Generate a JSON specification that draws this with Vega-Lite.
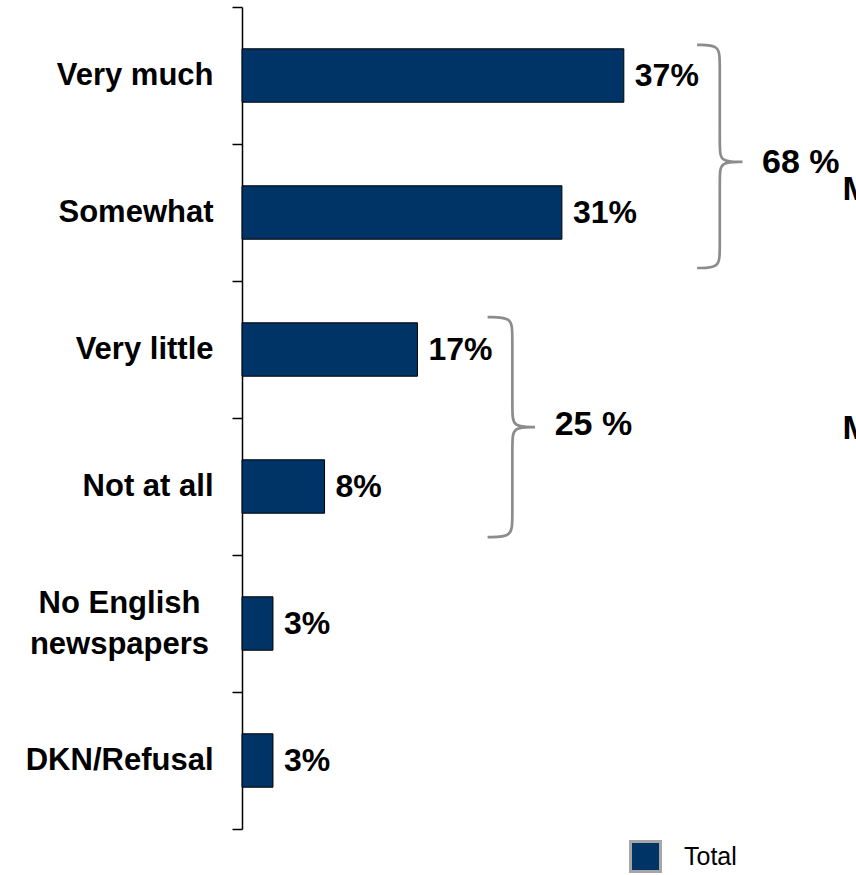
{
  "$schema": "https://vega.github.io/schema/vega-lite/v6.json",
  "autosize": "none",
  "width": 614,
  "height": 822,
  "padding": {"left": 242, "top": 7, "right": 0, "bottom": 46},
  "background": "white",
  "config": {
    "view": {"stroke": null},
    "font": "Liberation Sans",
    "axis": {"grid": false}
  },
  "resolve": {"scale": {"y": "independent"}},
  "layer": [
    {
      "data": {
        "values": [
          {"category": "Very much", "value": 37, "label": "37%", "series": "Total"},
          {"category": "Somewhat", "value": 31, "label": "31%", "series": "Total"},
          {"category": "Very little", "value": 17, "label": "17%", "series": "Total"},
          {"category": "Not at all", "value": 8, "label": "8%", "series": "Total"},
          {"category": "No English newspapers", "value": 3, "label": "3%", "series": "Total"},
          {"category": "DKN/Refusal", "value": 3, "label": "3%", "series": "Total"}
        ]
      },
      "encoding": {
        "y": {
          "field": "category",
          "type": "nominal",
          "sort": null,
          "scale": {"paddingInner": 0, "paddingOuter": 0},
          "axis": {
            "title": null,
            "domainColor": "#000000",
            "domainWidth": 1.5,
            "tickColor": "#000000",
            "tickWidth": 1.5,
            "tickSize": 10,
            "tickBand": "extent",
            "labelFont": "Liberation Sans",
            "labelFontSize": 31,
            "labelFontWeight": "bold",
            "labelColor": "#000000",
            "labelLimit": 400,
            "labelLineHeight": 41,
            "labelExpr": "datum.value == 'No English newspapers' ? ['No English', 'newspapers'] : datum.value",
            "labelAlign": {"condition": {"test": "datum.value == 'No English newspapers'", "value": "center"}, "value": "right"},
            "labelPadding": {"condition": {"test": "datum.value == 'No English newspapers'", "value": 113}, "value": 19},
            "labelOffset": {"condition": {"test": "datum.value == 'No English newspapers'", "value": -20}, "value": 0}
          }
        },
        "x": {
          "field": "value",
          "type": "quantitative",
          "scale": {"domain": [0, 59.5], "nice": false, "zero": true},
          "axis": null
        }
      },
      "layer": [
        {
          "mark": {"type": "bar", "height": {"band": 0.39}, "stroke": "#000000", "strokeWidth": 1},
          "encoding": {
            "color": {
              "field": "series",
              "type": "nominal",
              "scale": {"range": ["#003366"]},
              "legend": {
                "orient": "none",
                "legendX": 387,
                "legendY": 833,
                "title": null,
                "padding": 0,
                "symbolType": "square",
                "symbolSize": 900,
                "symbolStrokeColor": "#a6a6a6",
                "symbolStrokeWidth": 3,
                "symbolOpacity": 1,
                "labelFont": "Liberation Sans",
                "labelFontSize": 25,
                "labelColor": "#000000",
                "labelOffset": 22
              }
            }
          }
        },
        {
          "mark": {"type": "text", "align": "left", "baseline": "middle", "dx": 11, "fontSize": 32, "fontWeight": "bold", "font": "Liberation Sans", "color": "#000000"},
          "encoding": {"text": {"field": "label"}}
        }
      ]
    },
    {
      "data": {
        "values": [
          {"g": "b1", "i": 0, "x": 44.1, "y": 0.277},
          {"g": "b1", "i": 1, "x": 46.3, "y": 0.277},
          {"g": "b1", "i": 2, "x": 46.3, "y": 0.40},
          {"g": "b1", "i": 3, "x": 46.3, "y": 1.02},
          {"g": "b1", "i": 4, "x": 46.3, "y": 1.131},
          {"g": "b1", "i": 5, "x": 48.5, "y": 1.131},
          {"g": "b1", "i": 6, "x": 48.5, "y": 1.131},
          {"g": "b1", "i": 7, "x": 48.5, "y": 1.131},
          {"g": "b1", "i": 8, "x": 46.3, "y": 1.131},
          {"g": "b1", "i": 9, "x": 46.3, "y": 1.24},
          {"g": "b1", "i": 10, "x": 46.3, "y": 1.78},
          {"g": "b1", "i": 11, "x": 46.3, "y": 1.905},
          {"g": "b1", "i": 12, "x": 44.1, "y": 1.905},
          {"g": "b2", "i": 0, "x": 23.8, "y": 2.263},
          {"g": "b2", "i": 1, "x": 26.2, "y": 2.263},
          {"g": "b2", "i": 2, "x": 26.2, "y": 2.39},
          {"g": "b2", "i": 3, "x": 26.2, "y": 2.95},
          {"g": "b2", "i": 4, "x": 26.2, "y": 3.066},
          {"g": "b2", "i": 5, "x": 28.4, "y": 3.066},
          {"g": "b2", "i": 6, "x": 28.4, "y": 3.066},
          {"g": "b2", "i": 7, "x": 28.4, "y": 3.066},
          {"g": "b2", "i": 8, "x": 26.2, "y": 3.066},
          {"g": "b2", "i": 9, "x": 26.2, "y": 3.18},
          {"g": "b2", "i": 10, "x": 26.2, "y": 3.74},
          {"g": "b2", "i": 11, "x": 26.2, "y": 3.869},
          {"g": "b2", "i": 12, "x": 23.8, "y": 3.869}
        ]
      },
      "mark": {"type": "line", "interpolate": "basis", "stroke": "#8c8c8c", "strokeWidth": 2.7},
      "encoding": {
        "x": {"field": "x", "type": "quantitative", "scale": {"domain": [0, 59.5], "nice": false, "zero": true}, "axis": null},
        "y": {"field": "y", "type": "quantitative", "scale": {"domain": [0, 6], "nice": false, "reverse": true, "zero": false}, "axis": null},
        "detail": {"field": "g"},
        "order": {"field": "i", "type": "quantitative"}
      }
    },
    {
      "data": {
        "values": [
          {"t": "68 %", "x": 50.4, "y": 1.142},
          {"t": "25 %", "x": 30.3, "y": 3.05},
          {"t": "M", "x": 58.2, "y": 1.336},
          {"t": "M", "x": 58.2, "y": 3.08}
        ]
      },
      "mark": {"type": "text", "align": "left", "baseline": "middle", "fontWeight": "bold", "font": "Liberation Sans", "color": "#000000", "fontSize": 34},
      "encoding": {
        "x": {"field": "x", "type": "quantitative", "scale": {"domain": [0, 59.5], "nice": false, "zero": true}, "axis": null},
        "y": {"field": "y", "type": "quantitative", "scale": {"domain": [0, 6], "nice": false, "reverse": true, "zero": false}, "axis": null},
        "text": {"field": "t"}
      }
    }
  ]
}
